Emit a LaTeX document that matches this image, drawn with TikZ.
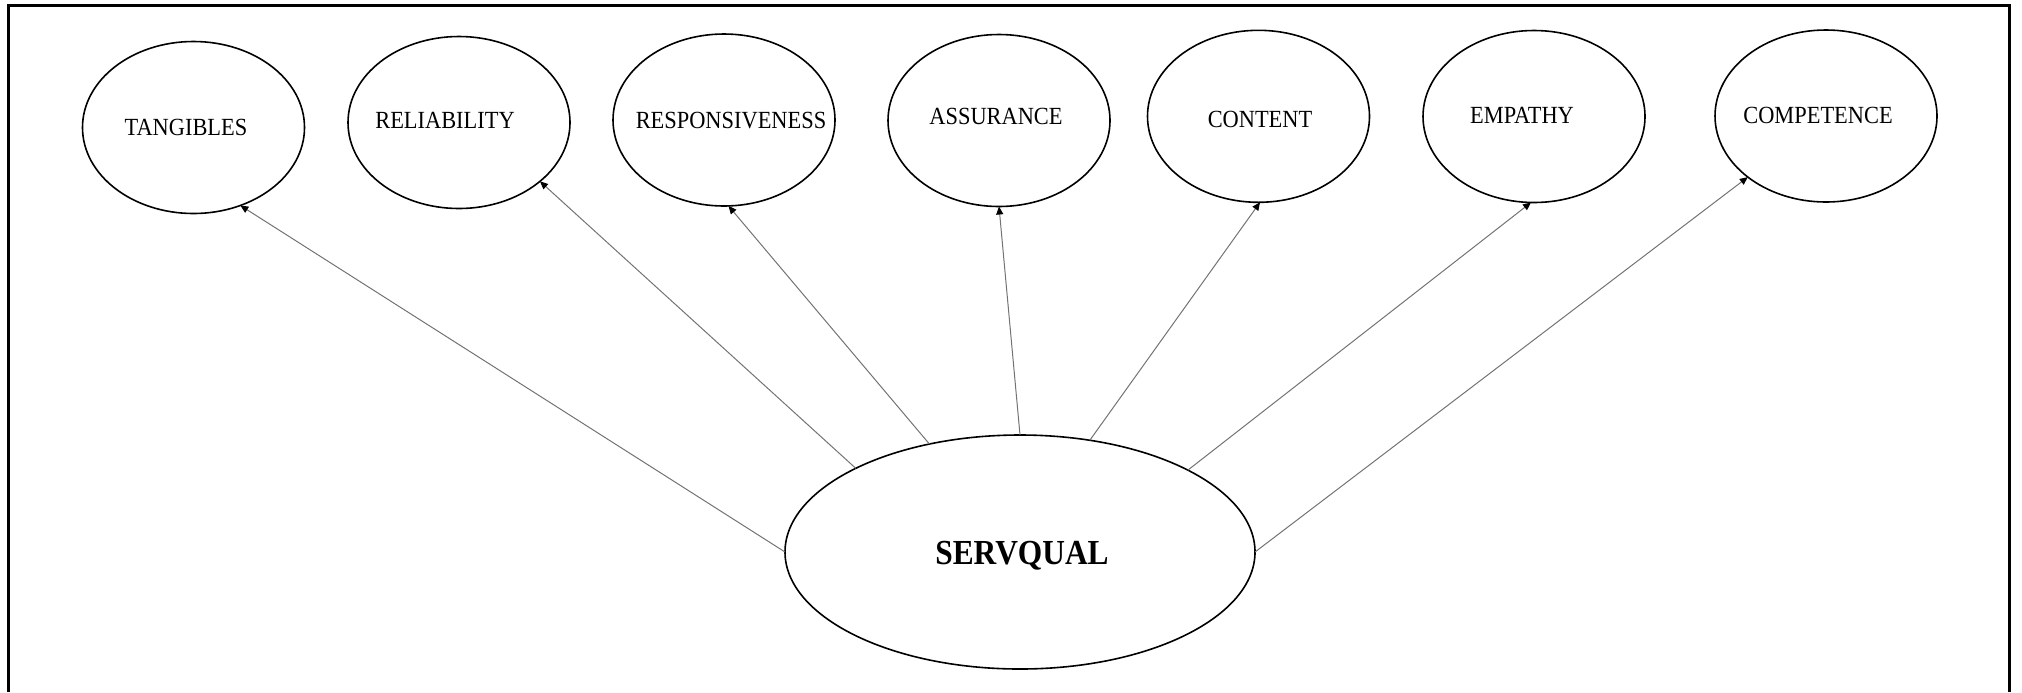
\documentclass[tikz,border=0pt]{standalone}
\usepackage{fontspec}
\setmainfont{Liberation Serif}
\usetikzlibrary{shapes.geometric,arrows.meta}
\tikzset{
  dim/.style={draw=black, line width=0.8pt, ellipse, inner sep=0pt, outer sep=0pt,
    minimum width=111pt, minimum height=86pt},
  core/.style={draw=black, line width=0.8pt, ellipse, inner sep=0pt, outer sep=0pt,
    minimum width=235pt, minimum height=117pt},
  lbl/.style={anchor=base, inner sep=0pt,
    font=\fontsize{11.2}{13}\selectfont},
  corelbl/.style={anchor=base, inner sep=0pt,
    font=\bfseries\fontsize{15.7}{18}\selectfont},
  link/.style={draw=black!55, line width=0.5pt,
    -{Triangle[length=4pt,width=3.5pt,color=black]}}
}
\newcommand{\tallA}[1]{\scalebox{1}[1.1]{#1}}
\newcommand{\tallB}[1]{\scalebox{1}[1.12]{#1}}
\begin{document}
\begin{tikzpicture}[x=0.5pt,y=-0.5pt]
\useasboundingbox (0,0) rectangle (2022,692);
\draw[line width=1.5pt] (8.7,692) -- (8.7,5.3) -- (2009.5,5.3) -- (2009.5,692);

\node[dim] (tan) at (193.5,127.5) {};
\node[dim] (rel) at (459,122.5) {};
\node[dim] (res) at (724,120) {};
\node[dim] (ass) at (999,120.5) {};
\node[dim] (con) at (1258.5,116.3) {};
\node[dim] (emp) at (1534,116.5) {};
\node[dim] (com) at (1826,116) {};
\node[core] (srv) at (1020,552) {};

\node[lbl] (tan-t) at (186,135.3) {\tallA{TANGIBLES}};
\node[lbl] (rel-t) at (445,128.3) {\tallA{RELIABILITY}};
\node[lbl] (res-t) at (731,128.3) {\tallA{RESPONSIVENESS}};
\node[lbl] (ass-t) at (996,124) {\tallA{ASSURANCE}};
\node[lbl] (con-t) at (1260,127.7) {\tallA{CONTENT}};
\node[lbl] (emp-t) at (1522,123.3) {\tallA{EMPATHY}};
\node[lbl] (com-t) at (1818,123.3) {\tallA{COMPETENCE}};
\node[corelbl] (srv-t) at (1022,564) {\tallB{SERVQUAL}};

\draw[link] (srv.180) -- (tan.-59.8);
\draw[link] (srv.153.6) -- (rel.-36.8);
\draw[link] (srv.130.5) -- (res.-87.4);
\draw[link] (srv.90) -- (ass.-90);
\draw[link] (srv.58.2) -- (con.-89);
\draw[link] (srv.26.2) -- (emp.-92);
\draw[link] (srv.0) -- (com.-142.2);
\end{tikzpicture}
\end{document}
